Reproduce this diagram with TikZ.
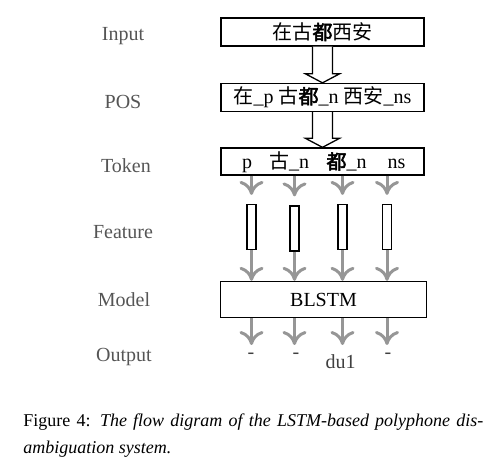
\documentclass[tikz,border=0pt]{standalone}
\usepackage{fontspec}
\setmainfont{Liberation Serif}
\newfontfamily\cjk{Noto Sans CJK SC}
\newfontfamily\cjkb[FakeBold=2.5]{Noto Sans CJK SC}
\usetikzlibrary{arrows.meta,calc}
\definecolor{argray}{RGB}{150,150,150}
\definecolor{lblgray}{RGB}{85,85,85}
\begin{document}
\begin{tikzpicture}[x=0.5pt,y=-0.5pt,
  box/.style={draw=black,line width=0.65pt,fill=white,minimum width=101.5pt,inner sep=0pt,font=\fontsize{10}{12}\selectfont},
  lbl/.style={text=lblgray,font=\fontsize{10}{12}\selectfont,inner sep=0pt},
  feat/.style={draw=black,line width=0.6pt,minimum width=4.5pt,minimum height=22.5pt,inner sep=0pt},
  garrow/.style={draw=argray,line width=1.5pt,-{To[length=7pt,width=12pt]}},
  hollow/.style={draw=black,line width=0.65pt,fill=white,line join=miter},
  outp/.style={anchor=north,text=black!75,inner sep=0pt,text height=7pt,text depth=0pt,font=\fontsize{10}{12}\selectfont}]
\useasboundingbox (0,0) rectangle (502,469);
% boxes
\node[box,minimum height=14pt] (in) at (322.5,32) {{\cjk 在古}{\cjkb 都}{\cjk 西安}};
\node[box,minimum height=14pt] (pos) at (322.5,97.5) {{\cjk 在}\_p {\cjk 古}{\cjkb 都}\_n {\cjk 西安}\_ns};
\node[box,minimum height=13.5pt] (tok) at (322.5,161.5) {};
\node[inner sep=0pt,font=\fontsize{10}{12}\selectfont,anchor=base] (t1) at (247,169) {p};
\node[inner sep=0pt,font=\fontsize{10}{12}\selectfont,anchor=base] (t2) at (289,169) {{\cjk 古}\_n};
\node[inner sep=0pt,font=\fontsize{10}{12}\selectfont,anchor=base] (t3) at (346.5,169) {{\cjkb 都}\_n};
\node[inner sep=0pt,font=\fontsize{10}{12}\selectfont,anchor=base] (t4) at (396.5,169) {ns};
\node[box,minimum width=103pt,minimum height=18pt] (bl) at (323.5,299.5) {BLSTM};
% features
\node[feat] (f1) at (251.5,227) {};
\node[feat] (f2) at (294.5,228.5) {};
\node[feat] (f3) at (342.5,227) {};
\node[feat] (f4) at (387,227) {};
% outputs
\node[outp] (o1) at (251,354) {\raisebox{5pt}{-}};
\node[outp] (o2) at (296,354) {\raisebox{5pt}{-}};
\node[outp] (o3) at (340.5,354) {du1};
\node[outp] (o4) at (388,354) {\raisebox{5pt}{-}};
% labels
\node[lbl] (lin) at (123,36) {Input};
\node[lbl] (lpos) at (123,102) {POS};
\node[lbl] (ltok) at (126,166) {Token};
\node[lbl] (lfeat) at (123,232) {Feature};
\node[lbl] (lmod) at (124,300) {Model};
\node[lbl] (lout) at (124,357) {Output};
% hollow arrows
\draw[hollow] ([xshift=-5pt]in.south) -- ([xshift=-5pt,yshift=4.5pt]pos.north) -- ([xshift=-8.5pt,yshift=4.5pt]pos.north) -- (pos.north) -- ([xshift=8.5pt,yshift=4.5pt]pos.north) -- ([xshift=5pt,yshift=4.5pt]pos.north) -- ([xshift=5pt]in.south);
\draw[hollow] ([xshift=-5pt]pos.south) -- ([xshift=-5pt,yshift=4.5pt]tok.north) -- ([xshift=-8.5pt,yshift=4.5pt]tok.north) -- (tok.north) -- ([xshift=8.5pt,yshift=4.5pt]tok.north) -- ([xshift=5pt,yshift=4.5pt]tok.north) -- ([xshift=5pt]pos.south);
% gray arrows
\foreach \f/\o in {f1/o1,f2/o2,f3/o3,f4/o4}{
  \draw[garrow,shorten >=4.5pt] (tok.south -| \f) -- (\f.north);
  \draw[garrow] (\f.south) -- (bl.north -| \f);
  \draw[garrow,shorten >=4.5pt] (bl.south -| \f) -- (\f |- \o.north);
}
% caption
\node[anchor=base west,inner sep=0pt,font=\fontsize{9}{13.5}\selectfont] (cap1) at (23,426) {\hbox to 230pt{Figure 4: \textit{The flow digram of the LSTM-based polyphone dis-}}};
\node[anchor=base west,inner sep=0pt,font=\fontsize{9}{13.5}\selectfont] (cap2) at (23,453) {\textit{ambiguation system.}};
\end{tikzpicture}
\end{document}
